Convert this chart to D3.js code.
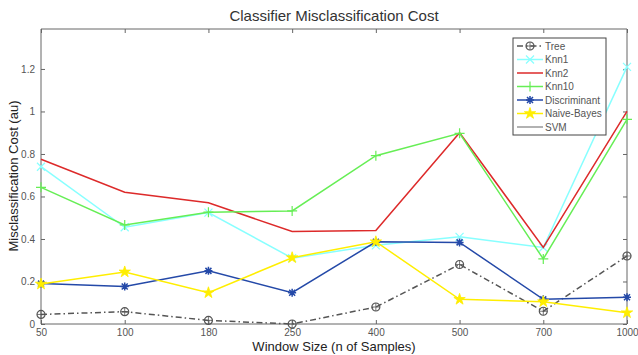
<html>
<head>
<style>
  body { margin: 0; background: #fff; }
  svg { position: absolute; top: 0; left: 0; font-family: "Liberation Sans", Arial, sans-serif; }
  .axis path, .axis line { stroke: #666; }
  .axis text { fill: #555; font-size: 10px; }
  .series { fill: none; stroke-width: 1.5px; }
</style>
<script src="https://cdnjs.cloudflare.com/ajax/libs/d3/7.8.5/d3.min.js"></script>
</head>
<body>
<svg width="638" height="355"></svg>
<script>
var windowSizes = ["50", "100", "180", "250", "400", "500", "700", "1000"];
var yTicks = [0, 0.2, 0.4, 0.6, 0.8, 1, 1.2];

var tree         = [0.045, 0.058, 0.017, 0.0, 0.08, 0.28, 0.06, 0.32];
var knn1         = [0.74, 0.455, 0.524, 0.31, 0.37, 0.41, 0.36, 1.21];
var knn2         = [0.775, 0.62, 0.57, 0.435, 0.44, 0.9, 0.36, 1.0];
var knn10        = [0.643, 0.466, 0.526, 0.532, 0.792, 0.897, 0.306, 0.963];
var discriminant = [0.19, 0.176, 0.25, 0.147, 0.387, 0.384, 0.116, 0.126];
var naiveBayes   = [0.188, 0.245, 0.147, 0.312, 0.387, 0.116, 0.105, 0.053];
var svmCost      = [];

var series = [
  {name: "Tree", values: tree, color: "#555", dash: "6,3,1.5,3", marker: "circle"},
  {name: "Knn1", values: knn1, color: "#88ffff", dash: null, marker: "x"},
  {name: "Knn2", values: knn2, color: "#dd2a2a", dash: null, marker: null},
  {name: "Knn10", values: knn10, color: "#66ee55", dash: null, marker: "plus"},
  {name: "Discriminant", values: discriminant, color: "#2449a8", dash: null, marker: "star"},
  {name: "Naive-Bayes", values: naiveBayes, color: "#ffee00", dash: null, marker: "pentagram"},
  {name: "SVM", values: svmCost, color: "#999", dash: null, marker: null}
];

var svg = d3.select("svg"),
  pLeft = 41, pRight = 627, pTop = 29, pBottom = 324;

var x = d3.scalePoint().domain(windowSizes).range([pLeft, pRight]);
var y = d3.scaleLinear().domain([0, 1.388]).range([pBottom, pTop]);

// axes (box with ticks on all sides, like matlab)
svg.append("g").attr("class", "axis").attr("transform", "translate(0," + pBottom + ")")
  .call(d3.axisBottom(x).tickSize(-4).tickPadding(5))
  .call(function(g) { g.select(".domain").attr("d", "M" + pLeft + ",0H" + pRight); });
svg.append("g").attr("class", "axis").attr("transform", "translate(0," + pTop + ")")
  .call(d3.axisTop(x).tickSize(-4).tickFormat(""))
  .call(function(g) { g.select(".domain").attr("d", "M" + pLeft + ",0H" + pRight); });
svg.append("g").attr("class", "axis").attr("transform", "translate(" + pLeft + ",0)")
  .call(d3.axisLeft(y).tickValues(yTicks).tickSize(-4).tickPadding(6).tickFormat(d3.format("~g")))
  .call(function(g) { g.select(".domain").attr("d", "M0," + pTop + "V" + pBottom); });
svg.append("g").attr("class", "axis").attr("transform", "translate(" + pRight + ",0)")
  .call(d3.axisRight(y).tickValues(yTicks).tickSize(-4).tickFormat(""))
  .call(function(g) { g.select(".domain").attr("d", "M0," + pTop + "V" + pBottom); });

var line = d3.line()
  .x(function(d, i) { return x(windowSizes[i]); })
  .y(function(d) { return y(d); });

function drawMarker(g, type, cx, cy, color) {
  var m = g.append("g").attr("transform", "translate(" + cx + "," + cy + ")")
    .attr("stroke", color).attr("fill", "none").attr("stroke-width", 1.2);
  if (type == "circle") {
    m.append("circle").attr("r", 4);
    m.append("path").attr("d", "M-4,0H4M0,-4V4").attr("stroke-width", 0.8);
  } else if (type == "x") {
    m.append("path").attr("d", "M-4,-4L4,4M-4,4L4,-4");
  } else if (type == "plus") {
    m.append("path").attr("d", "M-5,0H5M0,-5V5");
  } else if (type == "star") {
    m.append("path").attr("d", "M-4,0H4M0,-4V4M-3,-3L3,3M-3,3L3,-3").attr("stroke-width", 1.5);
  } else if (type == "pentagram") {
    m.append("path").attr("d", d3.symbol().type(d3.symbolStar).size(40)()).attr("fill", color).attr("stroke-width", 0.8);
  }
}

series.forEach(function(s) {
  if (!s.values.length) return;
  var g = svg.append("g");
  g.append("path").datum(s.values).attr("class", "series")
    .attr("d", line).attr("stroke", s.color)
    .attr("stroke-dasharray", s.dash);
  if (s.marker) s.values.forEach(function(v, i) {
    drawMarker(g, s.marker, x(windowSizes[i]), y(v), s.color);
  });
});

// legend
var lg = svg.append("g").attr("transform", "translate(513,38)");
lg.append("rect").attr("width", 93).attr("height", 97)
  .attr("fill", "#fff").attr("stroke", "#444").attr("stroke-width", 1);
series.forEach(function(s, i) {
  var yy = 8 + i * 13.5;
  lg.append("line").attr("x1", 4).attr("x2", 30).attr("y1", yy).attr("y2", yy)
    .attr("stroke", s.color).attr("stroke-width", 1.5).attr("stroke-dasharray", s.dash);
  if (s.marker) drawMarker(lg, s.marker, 17, yy, s.color);
  lg.append("text").attr("x", 32).attr("y", yy + 3.5).text(s.name)
    .attr("font-size", "10px").attr("fill", "#555");
});

svg.append("text").attr("x", 334).attr("y", 21).attr("text-anchor", "middle")
  .attr("font-size", "15px").attr("fill", "#333").text("Classifier Misclassification Cost");
svg.append("text").attr("x", 334).attr("y", 351).attr("text-anchor", "middle")
  .attr("font-size", "13px").attr("fill", "#222").text("Window Size (n of Samples)");
svg.append("text").attr("transform", "translate(18,176) rotate(-90)").attr("text-anchor", "middle")
  .attr("font-size", "13px").attr("fill", "#222").text("Misclassification Cost (au)");
</script>
</body>
</html>
